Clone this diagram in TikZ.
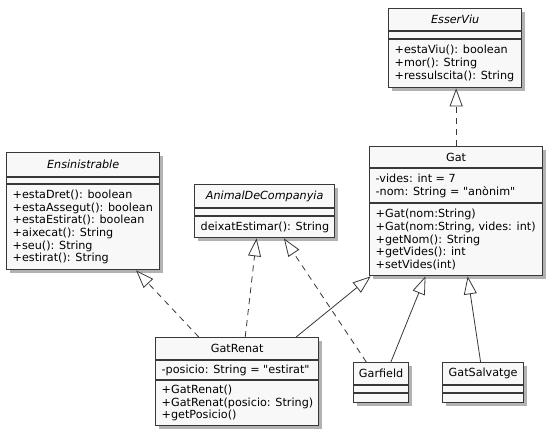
\documentclass[tikz,border=0pt]{standalone}
\usepackage{fontspec}
\setmainfont{DejaVu Sans}[Ligatures=TeXOff]
\usetikzlibrary{arrows.meta,shadows,calc}
\definecolor{umlline}{HTML}{383838}
\definecolor{umlfill}{HTML}{F8F8F8}

% class frame: name, left, top, right, bottom, first separator, second separator, title
\newcommand{\classframe}[8]{%
  \node[classbox, minimum width={#4-#2}, minimum height={#5-#3}, anchor=north west] (#1) at (#2,#3) {};
  \draw[sepline] (#1.west |- 0,#6) -- (#1.east |- 0,#6);
  \draw[sepline] (#1.west |- 0,#7) -- (#1.east |- 0,#7);
  \node[classtitle] (#1-title) at ($(#1.north)!0.5!(#1.north |- 0,#6)$) {#8};
}

\begin{document}
\begin{tikzpicture}[x=1pt,y=-1pt,
  font=\fontsize{11.2}{12.7}\selectfont,
  classbox/.style={draw=umlline, line width=1.3pt, fill=umlfill, inner sep=0pt,
    drop shadow={shadow xshift=3.5pt, shadow yshift=-3.5pt, fill=black, opacity=0.3}},
  sepline/.style={draw=umlline, line width=1.3pt},
  classtitle/.style={inner sep=0pt, anchor=center},
  members/.style={inner sep=0pt, anchor=west, align=left},
  hollow/.style={-{Triangle[length=18pt,width=13pt,fill=white]}},
  realize/.style={draw=umlline, line width=0.8pt, dash pattern=on 6pt off 5pt, hollow},
  extends/.style={draw=umlline, line width=0.8pt, hollow},
]
\fill[white] (0,0) rectangle (551,437);
\useasboundingbox (0,0) rectangle (551,437);

% interface EsserViu
\classframe{esserviu}{388}{8}{521}{87}{31}{39}{\itshape EsserViu}
\node[members] (esserviu-ops) at ([xshift=6.5pt]esserviu.west |- 0,63.5)
  {+estaViu(): boolean\\+mor(): String\\+ressulscita(): String};

% interface Ensinistrable
\classframe{ens}{6}{152}{159}{269}{177}{184}{\itshape Ensinistrable}
\node[members] (ens-ops) at ([xshift=6.5pt]ens.west |- 0,227)
  {+estaDret(): boolean\\+estaAssegut(): boolean\\+estaEstirat(): boolean\\+aixecat(): String\\+seu(): String\\+estirat(): String};

% interface AnimalDeCompanyia
\classframe{animal}{194}{184}{334}{237}{208}{216}{\itshape AnimalDeCompanyia}
\node[members] (animal-ops) at ([xshift=6.5pt]animal.west |- 0,227)
  {deixatEstimar(): String};

% class Gat
\classframe{gat}{369}{146}{542}{275}{168}{203}{Gat}
\node[members] (gat-attrs) at ([xshift=6.5pt]gat.west |- 0,186)
  {-vides: int = 7\\-nom: String = "anònim"};
\node[members] (gat-ops) at ([xshift=6.5pt]gat.west |- 0,239.5)
  {+Gat(nom:String)\\+Gat(nom:String, vides: int)\\+getNom(): String\\+getVides(): int\\+setVides(int)};

% class GatRenat
\classframe{gatrenat}{155}{337}{318}{425}{360}{380}{GatRenat}
\node[members] (gatrenat-attrs) at ([xshift=6.5pt]gatrenat.west |- 0,370.5)
  {-posicio: String = "estirat"};
\node[members] (gatrenat-ops) at ([xshift=6.5pt]gatrenat.west |- 0,403)
  {+GatRenat()\\+GatRenat(posicio: String)\\+getPosicio()};

% classes Garfield and GatSalvatge
\classframe{garfield}{353}{362}{408}{402}{385}{393}{Garfield}
\classframe{gatsalvatge}{442}{362}{523}{402}{385}{393}{GatSalvatge}

% realizations
\draw[realize] (gat.north) -- (gat.north |- esserviu.south);
\draw[realize] ($(gatrenat.north west)!0.266!(gatrenat.north east)$) -- ($(ens.south west)!0.843!(ens.south east)$);
\draw[realize] ($(gatrenat.north west)!0.549!(gatrenat.north east)$) -- ($(animal.south west)!0.443!(animal.south east)$);
\draw[realize] ($(garfield.north west)!0.236!(garfield.north east)$) -- ($(animal.south west)!0.636!(animal.south east)$);

% generalizations
\draw[extends] ($(gatrenat.north west)!0.859!(gatrenat.north east)$) -- ($(gat.south west)!0.01!(gat.south east)$);
\draw[extends] ($(garfield.north west)!0.673!(garfield.north east)$) -- ($(gat.south west)!0.324!(gat.south east)$);
\draw[extends] ($(gatsalvatge.north west)!0.469!(gatsalvatge.north east)$) -- ($(gat.south west)!0.566!(gat.south east)$);
\end{tikzpicture}
\end{document}
